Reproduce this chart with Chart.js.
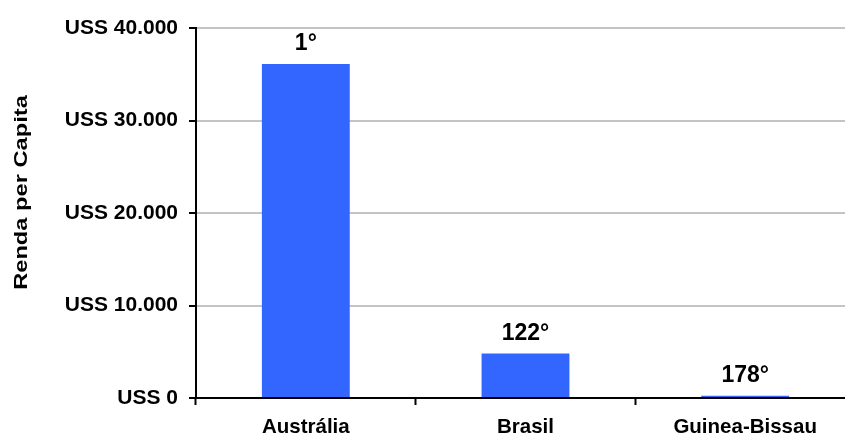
<!DOCTYPE html>
<html lang="pt">
<head>
<meta charset="utf-8">
<title>Renda per Capita</title>
<script src="https://cdn.jsdelivr.net/npm/chart.js@4"></script>
<style>
  html, body { margin: 0; padding: 0; background: #fff; overflow: hidden; }
  #wrap { position: relative; width: 860px; height: 439px; }
</style>
</head>
<body>
<div id="wrap"><canvas id="chart"></canvas></div>
<script>
// Countries, income per capita (US$) and world ranking position
const countries = ['Austrália', 'Brasil', 'Guinea-Bissau'];
const incomePerCapita = [36100, 4800, 250];
const rankLabels = ['1°', '122°', '178°'];
const yTicks = [0, 10000, 20000, 30000, 40000];
const axisTitle = 'Renda per Capita';

const FONT = '"Liberation Sans", Arial, Helvetica, sans-serif';

function formatUSS(v) {
  const s = String(Math.round(v)).replace(/\B(?=(\d{3})+(?!\d))/g, '.');
  return 'USS ' + s;
}

// Rank written above each bar
const rankLabelPlugin = {
  id: 'rankLabels',
  afterDatasetsDraw(chart) {
    const ctx = chart.ctx;
    const meta = chart.getDatasetMeta(0);
    ctx.save();
    ctx.fillStyle = '#000';
    ctx.font = 'bold 23px ' + FONT;
    ctx.textAlign = 'center';
    ctx.textBaseline = 'alphabetic';
    meta.data.forEach((bar, i) => {
      ctx.fillText(rankLabels[i], bar.x, bar.y - 14);
    });
    ctx.restore();
  }
};

// Vertical axis title, a wide bold face set a little above the axis middle
const yTitlePlugin = {
  id: 'yTitle',
  afterDraw(chart) {
    const ctx = chart.ctx;
    ctx.save();
    ctx.translate(26.5, 192.5);
    ctx.rotate(-Math.PI / 2);
    ctx.scale(1.28, 1);
    ctx.fillStyle = '#000';
    ctx.font = 'bold 18.5px ' + FONT;
    ctx.textAlign = 'center';
    ctx.textBaseline = 'alphabetic';
    ctx.fillText(axisTitle, 0, 0);
    ctx.restore();
  }
};

new Chart(document.getElementById('chart'), {
  type: 'bar',
  data: {
    labels: countries,
    datasets: [{
      data: incomePerCapita,
      backgroundColor: '#3366FF',
      borderWidth: 0,
      categoryPercentage: 1.0,
      barPercentage: 0.4
    }]
  },
  options: {
    responsive: true,
    maintainAspectRatio: false,
    animation: false,
    layout: { padding: { top: 28, right: 5, bottom: 0, left: 0 } },
    plugins: {
      legend: { display: false },
      tooltip: { enabled: false },
      title: { display: false }
    },
    scales: {
      x: {
        offset: true,
        grid: {
          offset: true,
          drawOnChartArea: false,
          drawTicks: true,
          tickLength: 7,
          tickColor: '#000',
          tickWidth: 2
        },
        border: { color: '#000', width: 2 },
        ticks: {
          color: '#000',
          font: { family: FONT, size: 20.5, weight: 'bold' },
          padding: 10,
          maxRotation: 0
        },
        afterFit(scale) { scale.height = 41; }
      },
      y: {
        min: yTicks[0],
        max: yTicks[yTicks.length - 1],
        afterBuildTicks(scale) {
          scale.ticks = yTicks.map(v => ({ value: v }));
        },
        grid: {
          color: '#c4c4c4',
          lineWidth: 2,
          drawTicks: true,
          tickLength: 7,
          tickColor: '#000',
          tickWidth: 2
        },
        border: { color: '#000', width: 2 },
        ticks: {
          color: '#000',
          font: { family: FONT, size: 21, weight: 'bold' },
          padding: 11,
          callback: (v) => formatUSS(v)
        },
        title: { display: false },
        afterFit(scale) { scale.width = 196; }
      }
    }
  },
  plugins: [rankLabelPlugin, yTitlePlugin]
});
</script>
</body>
</html>
